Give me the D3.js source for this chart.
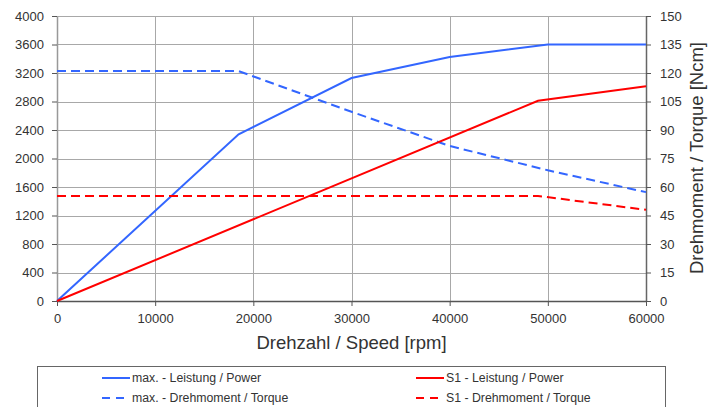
<!DOCTYPE html>
<html>
<head>
<meta charset="utf-8">
<script src="https://cdn.jsdelivr.net/npm/d3@7"></script>
<style>
  body { margin: 0; background: #fff; }
  svg text { font-family: "Liberation Sans", Arial, sans-serif; fill: #333; }
</style>
</head>
<body>
<script>
"use strict";
// speed points [rpm]
const maxSpeed = [0, 18500, 30000, 40000, 50000, 60000];
const maxPower = [0, 2340, 3130, 3425, 3600, 3600];      // W
const maxTorque = [121, 121, 99.6, 81.6, 68.8, 57.3];    // Ncm
const s1Speed = [0, 49000, 60000];
const s1Power = [0, 2810, 3015];                         // W
const s1Torque = [55.3, 55.3, 48];                       // Ncm

const powerTicks = d3.range(0, 4001, 400);
const torqueTicks = d3.range(0, 151, 15);
const speedTicks = d3.range(0, 60001, 10000);

const legendItems = [
    { label: "max. - Leistung / Power", color: "#3366ff", dash: null, col: 0, row: 0 },
    { label: "S1 - Leistung / Power", color: "#ff0000", dash: null, col: 1, row: 0 },
    { label: "max. - Drehmoment / Torque", color: "#3366ff", dash: "8,6", col: 0, row: 1 },
    { label: "S1 - Drehmoment / Torque", color: "#ff0000", dash: "8,6", col: 1, row: 1 },
];

const width = 719, height = 407;
const plot = { left: 57, right: 646, top: 16, bottom: 301 };

const x = d3.scaleLinear().domain([0, 60000]).range([plot.left, plot.right]);
const yP = d3.scaleLinear().domain([0, 4000]).range([plot.bottom, plot.top]);
const yT = d3.scaleLinear().domain([0, 150]).range([plot.bottom, plot.top]);

const svg = d3.select(document.body).append("svg")
    .attr("width", width)
    .attr("height", height);

// grid
svg.append("g").selectAll("line")
    .data(powerTicks.filter(d => d > 0))
    .enter().append("line")
    .attr("x1", plot.left).attr("x2", plot.right)
    .attr("y1", d => Math.round(yP(d)) + 0.5).attr("y2", d => Math.round(yP(d)) + 0.5)
    .attr("stroke", "#a8a8a8");
svg.append("g").selectAll("line")
    .data(speedTicks.filter(d => d > 0 && d < 60000))
    .enter().append("line")
    .attr("x1", d => Math.round(x(d)) + 0.5).attr("x2", d => Math.round(x(d)) + 0.5)
    .attr("y1", plot.top).attr("y2", plot.bottom)
    .attr("stroke", "#a8a8a8");

// axes
const styleAxis = function (g, color) {
    g.select(".domain").attr("stroke", color).attr("stroke-width", 1.5);
    g.selectAll(".tick line").attr("stroke", "#555");
    g.selectAll("text")
        .style("font-size", "13px")
        .style("fill", "#333");
};
const fmt = d3.format("d");
svg.append("g")
    .attr("transform", `translate(${plot.left},0)`)
    .call(d3.axisLeft(yP).tickValues(powerTicks).tickFormat(fmt).tickSize(5).tickSizeOuter(0).tickPadding(8))
    .call(g => styleAxis(g, "#999"));
svg.append("g")
    .attr("transform", `translate(${plot.right},0)`)
    .call(d3.axisRight(yT).tickValues(torqueTicks).tickFormat(fmt).tickSize(5).tickSizeOuter(0).tickPadding(9))
    .call(g => styleAxis(g, "#666"));
svg.append("g")
    .attr("transform", `translate(0,${plot.bottom})`)
    .call(d3.axisBottom(x).tickValues(speedTicks).tickFormat(fmt).tickSize(5).tickSizeOuter(0).tickPadding(8))
    .call(g => styleAxis(g, "#555"));

// titles
svg.append("text")
    .attr("x", (plot.left + plot.right) / 2)
    .attr("y", 349)
    .attr("text-anchor", "middle")
    .style("font-size", "18.5px")
    .text("Drehzahl / Speed [rpm]");
svg.append("text")
    .attr("transform", `translate(703,158) rotate(-90)`)
    .attr("text-anchor", "middle")
    .style("font-size", "18.5px")
    .text("Drehmoment / Torque [Ncm]");

// lines
const lineP = d3.line().x(d => x(d[0])).y(d => yP(d[1]));
const lineT = d3.line().x(d => x(d[0])).y(d => yT(d[1]));
const series = [
    { pts: d3.zip(maxSpeed, maxPower), gen: lineP, color: "#3366ff", dash: null },
    { pts: d3.zip(maxSpeed, maxTorque), gen: lineT, color: "#3366ff", dash: "9,5" },
    { pts: d3.zip(s1Speed, s1Power), gen: lineP, color: "#ff0000", dash: null },
    { pts: d3.zip(s1Speed, s1Torque), gen: lineT, color: "#ff0000", dash: "9,5" },
];
svg.append("g").selectAll("path")
    .data(series)
    .enter().append("path")
    .attr("d", s => s.gen(s.pts))
    .attr("fill", "none")
    .attr("stroke", s => s.color)
    .attr("stroke-width", 2)
    .attr("stroke-dasharray", s => s.dash);

// legend
const legend = svg.append("g");
legend.append("rect")
    .attr("x", 37.5).attr("y", 366.5)
    .attr("width", 628).attr("height", 60)
    .attr("fill", "none")
    .attr("stroke", "#666");
const li = legend.selectAll(".item")
    .data(legendItems)
    .enter().append("g")
    .attr("transform", d => `translate(${d.col ? 416 : 102},${d.row ? 398 : 378})`);
li.append("line")
    .attr("x1", 0).attr("x2", 28)
    .attr("stroke", d => d.color)
    .attr("stroke-width", 2)
    .attr("stroke-dasharray", d => d.dash);
li.append("text")
    .attr("x", 30)
    .attr("dy", "0.35em")
    .style("font-size", "12.3px")
    .text(d => d.label);
</script>
</body>
</html>
